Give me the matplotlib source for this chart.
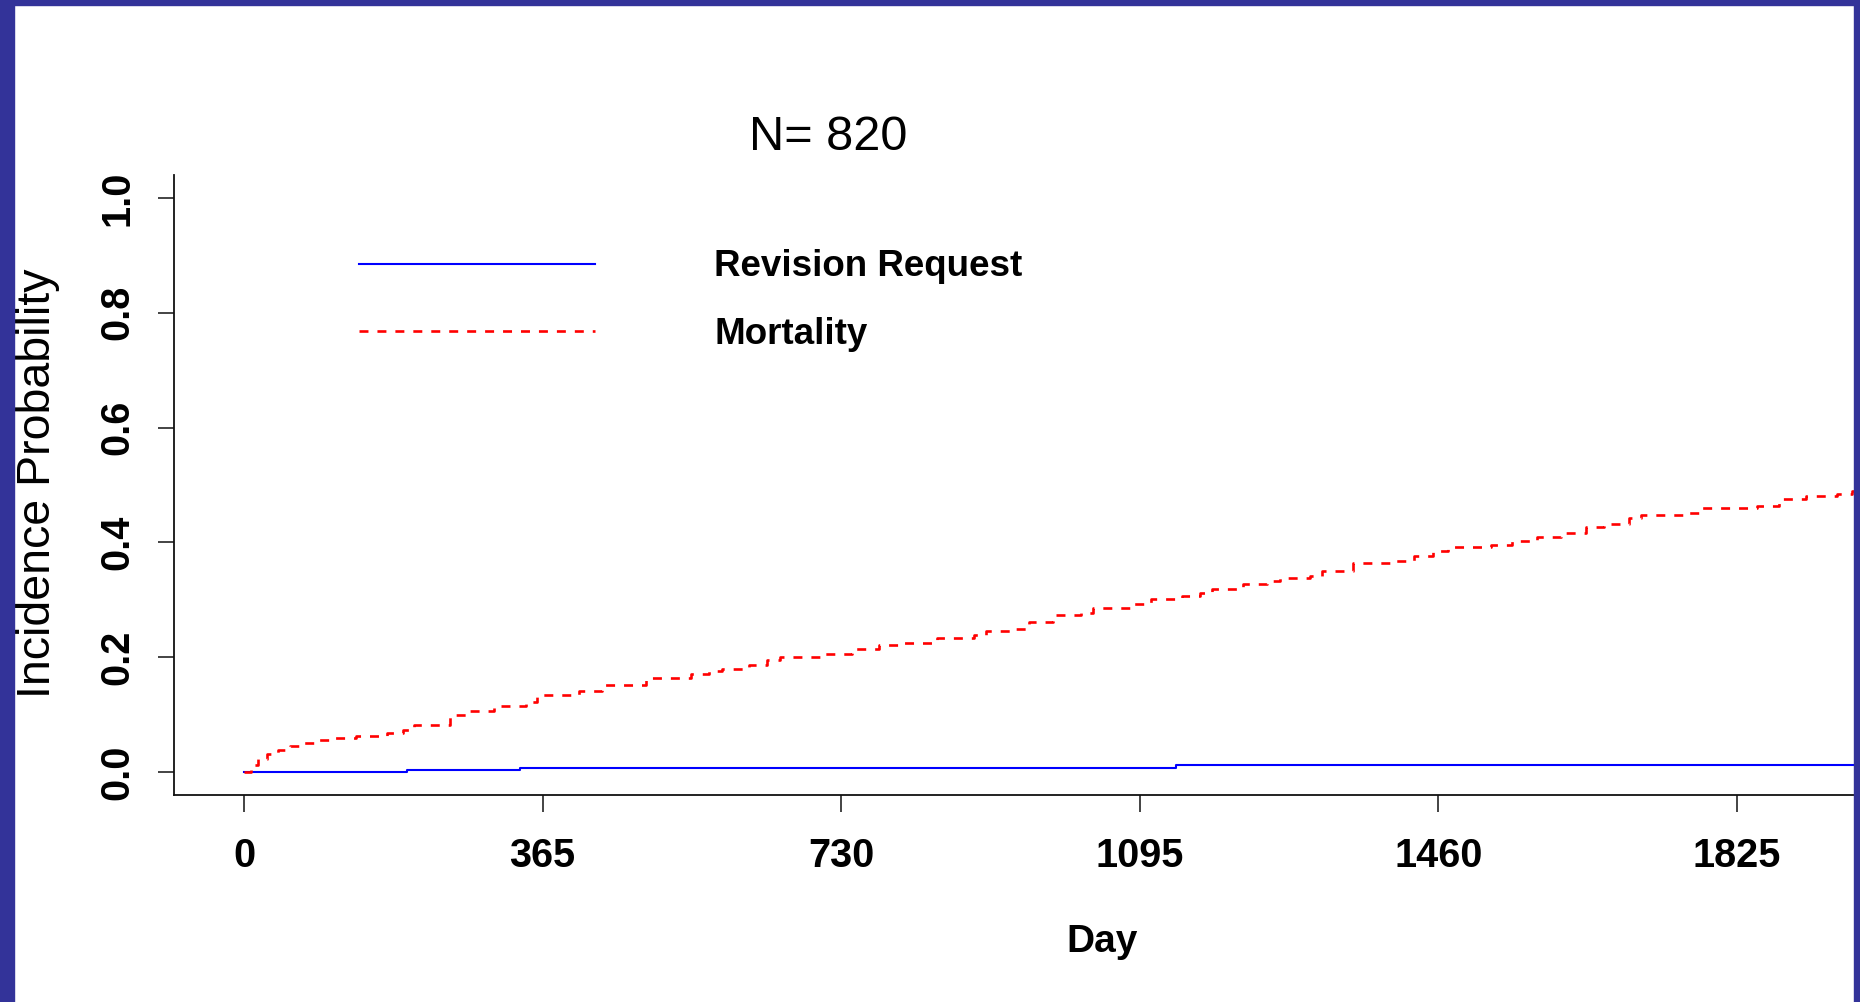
import matplotlib
matplotlib.use("Agg")
import matplotlib.pyplot as plt
from matplotlib.patches import Rectangle

plt.rcParams['font.family'] = ['Liberation Sans', 'DejaVu Sans']

# ---- data ----
title_text = "N= 820"
x_label = "Day"
y_label = "Incidence Probability"
x_ticks = [0, 365, 730, 1095, 1460, 1825]
y_ticks = [0.0, 0.2, 0.4, 0.6, 0.8, 1.0]
y_tick_labels = ["0.0", "0.2", "0.4", "0.6", "0.8", "1.0"]
series_names = ["Revision Request", "Mortality"]

revision_days = [0, 199, 337, 1139, 1990]
revision_prob = [0.0, 0.0035, 0.0076, 0.0115, 0.0115]

mortality_days = [0, 8, 17, 28, 42, 56, 72, 90, 110, 137, 175, 194, 208, 252,
                  276, 306, 345, 358, 410, 437, 491, 546, 568, 584,
                  617, 639, 655, 710, 743, 776, 802, 847, 892, 907,
                  940, 959, 989, 1023, 1038, 1086, 1109, 1146, 1169, 1183,
                  1221, 1251, 1266, 1303, 1318, 1356, 1401, 1430, 1453, 1472,
                  1524, 1550, 1581, 1610, 1640, 1662, 1693, 1708, 1760,
                  1782, 1850, 1876, 1909, 1947, 1966, 1990]
mortality_prob = [0.0, 0.012, 0.023, 0.031, 0.038, 0.045, 0.051, 0.055, 0.059, 0.062,
                  0.068, 0.073, 0.082, 0.099,
                  0.106, 0.115, 0.122, 0.134, 0.142, 0.151, 0.164, 0.171, 0.176, 0.180,
                  0.187, 0.195, 0.201, 0.206, 0.215, 0.221, 0.224, 0.233, 0.238, 0.245,
                  0.250, 0.262, 0.273, 0.277, 0.286, 0.293, 0.302, 0.306, 0.312, 0.319,
                  0.327, 0.332, 0.338, 0.341, 0.350, 0.364, 0.368, 0.376, 0.385, 0.392,
                  0.396, 0.403, 0.409, 0.416, 0.426, 0.432, 0.443, 0.447, 0.451,
                  0.460, 0.463, 0.475, 0.480, 0.484, 0.489, 0.489]

W, H = 1860, 1002
fig = plt.figure(figsize=(W / 100, H / 100), dpi=100)
fig.patch.set_facecolor('white')

# axes box in pixels: left 174, right 1854, top 175, bottom 795
ax = fig.add_axes([174 / W, 1 - 795 / H, (1854 - 174) / W, (795 - 175) / H])
ax.set_xlim(-85.6, 1968)
ax.set_ylim(-0.04, 1.04)

ax.step(revision_days, revision_prob, where='post', color='#0000ff', lw=1.5,
        label=series_names[0])
ax.step(mortality_days, mortality_prob, where='post', color='#ff0000', lw=1.9,
        linestyle=(0, (3.4, 3.4)), label=series_names[1])

for s in ['top', 'right']:
    ax.spines[s].set_visible(False)
for s in ['left', 'bottom']:
    ax.spines[s].set_linewidth(1.3)
    ax.spines[s].set_color('#111111')

ax.set_xticks(x_ticks)
ax.set_xticklabels([str(t) for t in x_ticks], fontsize=28.5, fontweight='bold')
ax.set_yticks(y_ticks)
ax.set_yticklabels(y_tick_labels, fontsize=28.5, fontweight='bold', rotation=90, va='center')
ax.tick_params(axis='x', length=12, width=1.1, pad=18, color='#111111')
ax.tick_params(axis='y', length=11.5, width=1.1, pad=15.5, color='#111111')

ax.set_xlabel(x_label, fontsize=28, fontweight='bold')
ax.xaxis.set_label_coords((1102 - 174) / 1680, (795 - 942) / 620)
ax.xaxis.label.set_va('center')
ax.set_ylabel(y_label, fontsize=33.5)
ax.yaxis.set_label_coords((38 - 174) / 1680, (795 - 483) / 620)
ax.yaxis.label.set_va('center')

fig.text(828 / W, 1 - 137 / H, title_text, fontsize=35, ha='center', va='center')

leg = ax.legend(loc='upper left', bbox_to_anchor=(359 / W, 1 - 249.5 / H),
                bbox_transform=fig.transFigure, frameon=False, borderpad=0,
                borderaxespad=0, handlelength=6.4, handletextpad=3.25,
                labelspacing=0.89, prop={'size': 26.5, 'weight': 'bold'})

# purple frame
border = '#333399'
fig.add_artist(Rectangle((0, 0), 14 / W, 1, transform=fig.transFigure,
                         color=border, zorder=10))
fig.add_artist(Rectangle((0, 1 - 5 / H), 1, 5 / H, transform=fig.transFigure,
                         color=border, zorder=10))
fig.add_artist(Rectangle((1854 / W, 0), 6 / W, 1, transform=fig.transFigure,
                         color=border, zorder=10))

fig.savefig('out.png', dpi=100)
